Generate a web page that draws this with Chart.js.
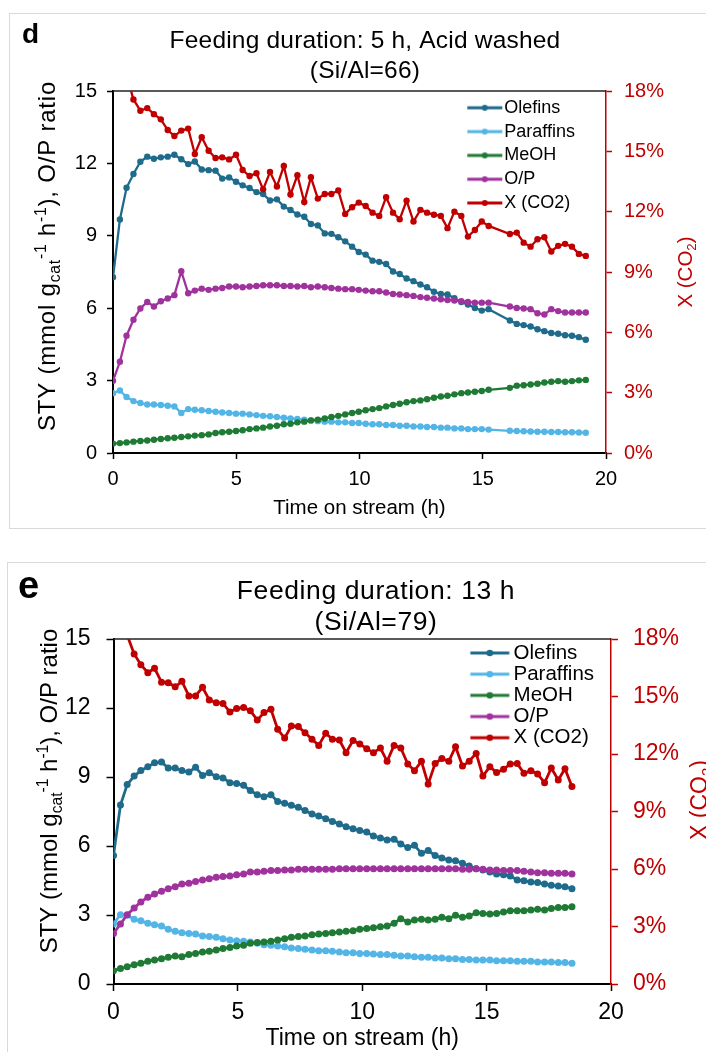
<!DOCTYPE html>
<html>
<head>
<meta charset="utf-8">
<script src="https://cdn.jsdelivr.net/npm/chart.js@4.4.1/dist/chart.umd.min.js"></script>
<style>
  html, body { margin: 0; padding: 0; background: #fff; overflow: hidden; }
  body { width: 706px; height: 1052px; position: relative; }
  .box { position: absolute; border: 1.5px solid #d9d9d9; box-sizing: border-box; }
  canvas { position: absolute; left: 0; }
</style>
</head>
<body>
<div class="box" style="left:9px; top:13px; width:760px; height:516px;"></div>
<div class="box" style="left:7px; top:562px; width:760px; height:600px;"></div>
<canvas id="chartD" width="706" height="540" style="top:0"></canvas>
<canvas id="chartE" width="706" height="507" style="top:545px"></canvas>
<script>
const FONT = "'Liberation Sans', Arial, sans-serif";
const RED = "#c00000";

const seriesNames = ["Olefins", "Paraffins", "MeOH", "O/P", "X (CO2)"];
const seriesColors = ["#1f6b8c", "#52b5e6", "#1f7a35", "#a0329e", "#c00000"];

const titleD = ["Feeding duration: 5 h, Acid washed", "(Si/Al=66)"];
const titleE = ["Feeding duration: 13 h", "(Si/Al=79)"];

// panel d (time on stream, h)
const timeD = [0, 0.28, 0.55, 0.83, 1.11, 1.39, 1.66, 1.94, 2.22, 2.49, 2.77, 3.05, 3.32, 3.6, 3.88, 4.16, 4.43, 4.71, 4.99, 5.26,
  5.54, 5.82, 6.09, 6.37, 6.65, 6.93, 7.2, 7.48, 7.76, 8.03, 8.31, 8.59, 8.86, 9.14, 9.42, 9.7, 9.97,
  10.25, 10.53, 10.8, 11.08, 11.36, 11.63, 11.91, 12.19, 12.47, 12.74, 13.02, 13.3, 13.57, 13.85, 14.13, 14.4, 14.68, 14.96, 15.24,
  16.1, 16.38, 16.66, 16.94, 17.22, 17.5, 17.78, 18.06, 18.34, 18.62, 18.9, 19.18];
const olefinsD = [7.28, 9.68, 10.99, 11.56, 12.07, 12.28, 12.19, 12.25, 12.28, 12.36, 12.17, 11.97, 12.08, 11.75, 11.72, 11.7, 11.37, 11.42, 11.24, 11.09,
  10.98, 10.81, 10.73, 10.46, 10.51, 10.21, 10.07, 9.88, 9.79, 9.49, 9.43, 9.1, 9.08, 8.94, 8.77, 8.55, 8.33,
  8.22, 7.97, 7.92, 7.83, 7.52, 7.42, 7.23, 7.12, 6.98, 6.87, 6.68, 6.59, 6.57, 6.41, 6.26, 6.15, 6.01, 5.9, 5.96,
  5.49, 5.35, 5.3, 5.24, 5.13, 5.05, 4.97, 4.94, 4.88, 4.86, 4.8, 4.69];
const paraffinsD = [2.48, 2.59, 2.32, 2.15, 2.07, 2.01, 2.01, 1.99, 1.96, 1.93, 1.66, 1.82, 1.79, 1.77, 1.74, 1.71, 1.68, 1.66, 1.63, 1.63,
  1.6, 1.57, 1.54, 1.52, 1.49, 1.46, 1.43, 1.41, 1.38, 1.35, 1.32, 1.3, 1.3, 1.27, 1.27, 1.24, 1.24,
  1.21, 1.19, 1.19, 1.16, 1.16, 1.13, 1.13, 1.1, 1.1, 1.08, 1.08, 1.05, 1.05, 1.02, 1.02, 0.99, 0.99, 0.99, 0.97,
  0.92, 0.91, 0.9, 0.89, 0.88, 0.88, 0.87, 0.87, 0.86, 0.86, 0.85, 0.84];
const meohD = [0.39, 0.41, 0.44, 0.47, 0.5, 0.52, 0.55, 0.58, 0.61, 0.63, 0.66, 0.69, 0.72, 0.74, 0.77, 0.83, 0.86, 0.88, 0.91, 0.94,
  0.99, 1.02, 1.05, 1.1, 1.13, 1.19, 1.21, 1.27, 1.3, 1.35, 1.38, 1.43, 1.49, 1.54, 1.6, 1.66, 1.71,
  1.77, 1.82, 1.86, 1.93, 1.99, 2.04, 2.1, 2.15, 2.18, 2.23, 2.29, 2.34, 2.37, 2.43, 2.48, 2.51, 2.54, 2.57, 2.62,
  2.7, 2.79, 2.81, 2.84, 2.87, 2.92, 2.95, 2.98, 2.95, 2.98, 3.01, 3.03];
const opD = [2.99, 3.78, 4.86, 5.52, 5.99, 6.26, 6.07, 6.29, 6.4, 6.54, 7.53, 6.62, 6.73, 6.81, 6.76, 6.81, 6.84, 6.9, 6.9, 6.87,
  6.9, 6.92, 6.95, 6.95, 6.95, 6.92, 6.92, 6.9, 6.92, 6.87, 6.9, 6.87, 6.84, 6.81, 6.79, 6.79, 6.76,
  6.73, 6.7, 6.7, 6.65, 6.59, 6.57, 6.54, 6.51, 6.46, 6.43, 6.4, 6.37, 6.34, 6.32, 6.29, 6.26, 6.23, 6.23, 6.23,
  6.07, 6.01, 5.99, 5.96, 5.79, 5.74, 5.96, 5.88, 5.82, 5.82, 5.82, 5.82];
const xco2D = [20.6, 19.6, 18.8, 17.58, 17.02, 17.15, 16.85, 16.59, 16.06, 15.76, 16.03, 16.13, 14.87, 15.7, 15.03, 14.67, 14.7, 14.6, 14.83, 14.07,
  13.77, 13.91, 13.11, 13.97, 13.25, 14.27, 12.85, 13.81, 12.48, 13.71, 12.65, 12.88, 12.88, 13.05, 11.89, 12.22, 12.45,
  12.28, 11.95, 11.79, 12.72, 11.95, 11.62, 12.55, 11.51, 12.09, 11.95, 11.85, 11.79, 11.18, 12.0, 11.79, 10.76, 11.09, 11.51, 11.29,
  10.89, 10.96, 10.46, 10.26, 10.63, 10.73, 10.02, 10.3, 10.4, 10.26, 9.9, 9.8];

// panel e (time on stream, h)
const timeE = [0, 0.28, 0.55, 0.83, 1.1, 1.38, 1.65, 1.93, 2.2, 2.48, 2.75, 3.03, 3.3, 3.58, 3.85, 4.13, 4.4, 4.68, 4.95, 5.23,
  5.5, 5.78, 6.05, 6.33, 6.6, 6.88, 7.15, 7.43, 7.7, 7.98, 8.25, 8.53, 8.8, 9.08, 9.35, 9.63, 9.9,
  10.18, 10.45, 10.73, 11.0, 11.28, 11.55, 11.83, 12.1, 12.38, 12.65, 12.93, 13.2, 13.48, 13.75, 14.03, 14.3, 14.58, 14.85, 15.13,
  15.4, 15.68, 15.95, 16.23, 16.5, 16.78, 17.05, 17.33, 17.6, 17.88, 18.15, 18.43];
const olefinsE = [5.59, 7.78, 8.67, 9.04, 9.28, 9.45, 9.62, 9.65, 9.39, 9.39, 9.28, 9.22, 9.42, 9.07, 9.19, 9.01, 8.96, 8.75, 8.72, 8.64,
  8.41, 8.23, 8.14, 8.23, 7.94, 7.86, 7.77, 7.68, 7.54, 7.39, 7.3, 7.19, 7.07, 6.96, 6.84, 6.75, 6.67,
  6.61, 6.43, 6.35, 6.26, 6.29, 6.09, 5.94, 6.03, 5.68, 5.8, 5.59, 5.48, 5.39, 5.36, 5.25, 5.13, 5.01, 4.96, 4.87,
  4.78, 4.75, 4.7, 4.52, 4.49, 4.43, 4.41, 4.35, 4.29, 4.26, 4.23, 4.14];
const paraffinsE = [2.61, 3.01, 2.99, 2.81, 2.75, 2.64, 2.58, 2.52, 2.38, 2.29, 2.23, 2.2, 2.17, 2.09, 2.06, 2.03, 1.97, 1.91, 1.88, 1.86,
  1.83, 1.77, 1.71, 1.68, 1.65, 1.62, 1.57, 1.54, 1.51, 1.48, 1.45, 1.45, 1.42, 1.39, 1.36, 1.36, 1.33,
  1.33, 1.3, 1.28, 1.28, 1.25, 1.22, 1.22, 1.19, 1.16, 1.16, 1.13, 1.13, 1.1, 1.1, 1.07, 1.07, 1.04, 1.04, 1.04,
  1.01, 1.01, 1.01, 0.99, 0.99, 0.99, 0.96, 0.96, 0.96, 0.93, 0.93, 0.9];
const meohE = [0.58, 0.67, 0.75, 0.84, 0.9, 0.99, 1.04, 1.1, 1.16, 1.22, 1.19, 1.28, 1.33, 1.39, 1.42, 1.48, 1.54, 1.59, 1.65, 1.68,
  1.77, 1.8, 1.83, 1.86, 1.91, 1.97, 2.03, 2.06, 2.09, 2.14, 2.17, 2.2, 2.23, 2.26, 2.29, 2.32, 2.38,
  2.41, 2.45, 2.49, 2.52, 2.64, 2.84, 2.7, 2.78, 2.81, 2.78, 2.81, 2.9, 2.84, 2.99, 2.9, 2.96, 3.1, 3.07, 3.04,
  3.07, 3.13, 3.19, 3.19, 3.19, 3.22, 3.25, 3.22, 3.28, 3.33, 3.33, 3.36];
const opE = [2.2, 2.61, 3.01, 3.3, 3.57, 3.77, 3.91, 4.03, 4.14, 4.23, 4.35, 4.38, 4.46, 4.52, 4.58, 4.64, 4.67, 4.7, 4.75, 4.78,
  4.87, 4.87, 4.9, 4.93, 4.93, 4.96, 4.96, 4.99, 4.99, 4.99, 4.99, 4.99, 4.99, 5.01, 5.01, 5.01, 5.01,
  5.01, 5.01, 5.01, 5.01, 5.01, 5.01, 5.01, 5.01, 5.01, 5.01, 5.01, 5.01, 5.01, 5.01, 4.99, 4.99, 5.01, 4.99, 4.96,
  4.96, 4.93, 4.93, 4.93, 4.9, 4.87, 4.84, 4.84, 4.81, 4.81, 4.81, 4.78];
const xco2E = [21.0, 19.5, 18.2, 17.22, 16.66, 16.24, 16.47, 15.75, 15.72, 15.51, 15.79, 15.03, 15.03, 15.48, 14.82, 14.68, 14.64, 14.19, 14.37, 14.43,
  14.26, 13.77, 14.16, 14.33, 13.29, 12.83, 13.46, 13.43, 13.11, 12.77, 12.45, 13.08, 12.77, 12.73, 12.07, 12.7,
  12.52, 12.28, 12.07, 12.31, 11.62, 12.45, 12.31, 11.48, 11.13, 11.62, 10.43, 11.51, 11.76, 11.62, 12.38, 11.37, 11.62, 12.03, 10.85, 11.34,
  11.03, 11.2, 11.48, 11.51, 10.99, 11.13, 10.96, 10.5, 11.27, 10.64, 11.23, 10.3];

const yTitleParts = [["STY (mmol g", ""], ["cat", "sub"], ["-1", "sup"], [" h", ""], ["-1", "sup"], ["), O/P ratio", ""]];
const y2TitleParts = [["X (CO", ""], ["2", "sub"], [")", ""]];

// little line + dot sample used as the legend marker
function legendMark(color, lg) {
  const c = document.createElement("canvas");
  c.width = lg.imgW;
  c.height = 12;
  const g = c.getContext("2d");
  const x0 = lg.imgW / 2 - lg.box / 2;
  g.strokeStyle = color;
  g.lineWidth = lg.lineW;
  g.beginPath();
  g.moveTo(x0, 6);
  g.lineTo(x0 + lg.len, 6);
  g.stroke();
  g.fillStyle = color;
  g.beginPath();
  g.arc(x0 + lg.len / 2, 6, lg.dot, 0, Math.PI * 2);
  g.fill();
  return c;
}

// rotated axis title with sub/superscripts
function drawRich(ctx, parts, o, color) {
  ctx.save();
  ctx.translate(o.x, o.y);
  ctx.rotate(-Math.PI / 2);
  ctx.fillStyle = color;
  ctx.textAlign = "left";
  ctx.textBaseline = "alphabetic";
  ctx.letterSpacing = o.spacing + "px";
  const small = o.size * 0.65;
  const widths = parts.map(([t, k]) => {
    ctx.font = (k ? small : o.size) + "px " + FONT;
    return ctx.measureText(t).width;
  });
  let cx = -widths.reduce((a, b) => a + b, 0) / 2;
  parts.forEach(([t, k], i) => {
    ctx.font = (k ? small : o.size) + "px " + FONT;
    const dy = k === "sub" ? o.size * 0.2 : k === "sup" ? -o.size * 0.38 : 0;
    ctx.fillText(t, cx, dy);
    cx += widths[i];
  });
  ctx.restore();
}

const panelText = {
  id: "panelText",
  afterLayout(chart, args, o) {
    const lg = chart.legend;
    lg.left = o.legendAt[0];
    lg.top = o.legendAt[1];
    lg.right = lg.left + lg.width;
    lg.bottom = lg.top + lg.height;
  },
  beforeDatasetsDraw(chart) {
    const ctx = chart.ctx;
    const a = chart.chartArea;
    ctx.save();
    ctx.strokeStyle = "#222";
    ctx.lineWidth = 1.3;
    ctx.beginPath();
    ctx.moveTo(a.left, a.top);
    ctx.lineTo(a.right, a.top);
    ctx.stroke();
    ctx.restore();
  },
  afterDraw(chart, args, o) {
    const ctx = chart.ctx;
    ctx.save();
    ctx.fillStyle = "#000";
    ctx.textAlign = "left";
    ctx.textBaseline = "alphabetic";
    ctx.font = "bold " + o.letter.size + "px " + FONT;
    ctx.fillText(o.letter.t, o.letter.x, o.letter.y);
    ctx.font = o.title.size + "px " + FONT;
    ctx.textAlign = "center";
    ctx.letterSpacing = o.title.spacing + "px";
    o.title.lines.forEach((t, i) => ctx.fillText(t, o.title.x, o.title.y[i]));
    ctx.restore();
    drawRich(ctx, yTitleParts, o.yTitle, "#000");
    drawRich(ctx, y2TitleParts, o.y2Title, RED);
  },
};

function makeChart(id, times, series, s) {
  const marks = seriesColors.map((c) => legendMark(c, s.legend));
  const datasets = series.map((vals, i) => ({
    label: seriesNames[i],
    data: vals.map((v, k) => ({ x: times[k], y: v })),
    yAxisID: i === 4 ? "y2" : "y",
    borderColor: seriesColors[i],
    backgroundColor: seriesColors[i],
    borderWidth: s.lineWidth,
    pointRadius: s.dot,
    pointHoverRadius: s.dot,
    pointBorderWidth: 0,
    tension: 0,
    order: 4 - i,
  }));
  const tickFont = { family: FONT, size: s.tick };
  const ctx = document.getElementById(id).getContext("2d");
  return new Chart(ctx, {
    type: "line",
    data: { datasets: datasets },
    options: {
      responsive: false,
      animation: false,
      events: [],
      layout: { padding: { top: s.areaTop, left: 0, right: 0, bottom: 0 } },
      scales: {
        x: {
          type: "linear",
          min: 0,
          max: 20,
          ticks: { stepSize: 5, color: "#000", font: tickFont, padding: s.xPad, maxRotation: 0 },
          grid: { drawOnChartArea: false, tickLength: s.tickLen, tickColor: "#000", tickWidth: 1.5 },
          border: { color: "#000", width: 2 },
          title: {
            display: true,
            text: "Time on stream (h)",
            color: "#000",
            font: { family: FONT, size: s.axisTitle },
            padding: { top: 0, bottom: s.xTitlePad },
          },
          afterFit: (sc) => { sc.height = s.xHeight; },
        },
        y: {
          position: "left",
          min: 0,
          max: 15,
          ticks: { stepSize: 3, color: "#000", font: tickFont, padding: s.yPad },
          grid: { drawOnChartArea: false, tickLength: s.tickLen, tickColor: "#000", tickWidth: 1.5 },
          border: { color: "#000", width: 2 },
          afterFit: (sc) => { sc.width = s.left; },
        },
        y2: {
          position: "right",
          min: 0,
          max: 18,
          ticks: { stepSize: 3, color: RED, font: tickFont, padding: s.y2Pad, callback: (v) => v + "%" },
          grid: { drawOnChartArea: false, tickLength: s.tickLen, tickColor: RED, tickWidth: 1.5 },
          border: { color: RED, width: 1.5 },
          afterFit: (sc) => { sc.width = s.rightW; },
        },
      },
      plugins: {
        tooltip: { enabled: false },
        legend: {
          position: "chartArea",
          align: "start",
          labels: {
            usePointStyle: true,
            pointStyleWidth: s.legend.box,
            padding: s.legend.pad,
            color: "#000",
            font: { family: FONT, size: s.legend.size },
            generateLabels: (chart) =>
              chart.data.datasets.map((d, i) => ({
                text: d.label,
                pointStyle: marks[i],
                fillStyle: d.borderColor,
                strokeStyle: d.borderColor,
                lineWidth: 0,
                hidden: false,
                datasetIndex: i,
                fontColor: "#000",
              })),
          },
        },
        panelText: s.text,
      },
    },
    plugins: [panelText],
  });
}

makeChart("chartD", timeD, [olefinsD, paraffinsD, meohD, opD, xco2D], {
  areaTop: 91, left: 113, rightW: 100, xHeight: 87,
  tick: 20, tickLen: 6, xPad: 8, yPad: 10, y2Pad: 12,
  axisTitle: 20.5, xTitlePad: 19.5,
  lineWidth: 2.3, dot: 3.2,
  legend: { size: 18, pad: 5.8, box: 28, imgW: 70, len: 35, lineW: 3, dot: 3 },
  text: {
    letter: { t: "d", x: 22, y: 43, size: 28 },
    title: { lines: titleD, x: 365, y: [48, 78], size: 24.5, spacing: 0.2 },
    yTitle: { x: 55, y: 256, size: 24, spacing: 0.8 },
    y2Title: { x: 692, y: 272, size: 20.5, spacing: 0 },
    legendAt: [461.5, 93],
  },
});

makeChart("chartE", timeE, [olefinsE, paraffinsE, meohE, opE, xco2E], {
  areaTop: 94, left: 113.5, rightW: 95, xHeight: 68,
  tick: 23, tickLen: 7, xPad: 8, yPad: 16, y2Pad: 15,
  axisTitle: 23, xTitlePad: 0,
  lineWidth: 2.8, dot: 3.5,
  legend: { size: 20.5, pad: 0.7, box: 33, imgW: 80, len: 39, lineW: 3.2, dot: 3.3 },
  text: {
    letter: { t: "e", x: 18, y: 53, size: 38 },
    title: { lines: titleE, x: 376, y: [54, 85], size: 26.5, spacing: 0.6 },
    yTitle: { x: 57, y: 246, size: 24, spacing: 0 },
    y2Title: { x: 707, y: 255, size: 23, spacing: 0 },
    legendAt: [469.6, 97],
  },
});
</script>
</body>
</html>
